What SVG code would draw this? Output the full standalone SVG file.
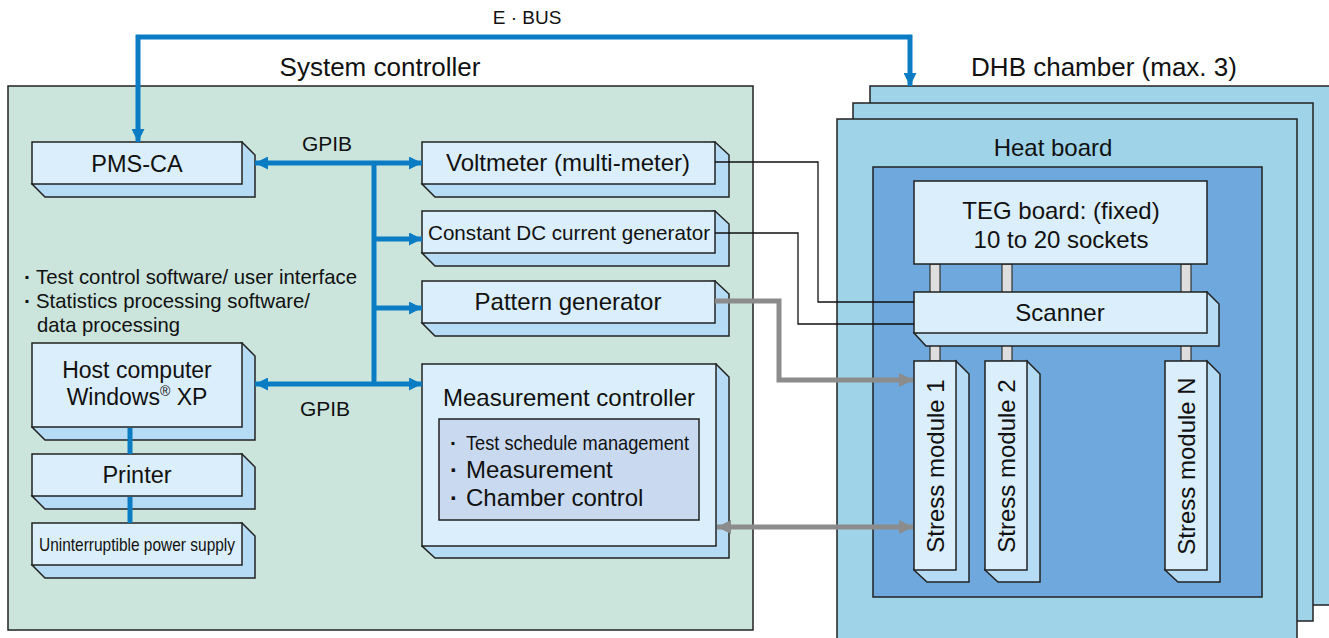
<svg xmlns="http://www.w3.org/2000/svg" width="1329" height="638" viewBox="0 0 1329 638">
<defs>
<style>
text{font-family:"Liberation Sans",Arial,sans-serif;fill:#111}
.front{fill:#dbeefb;stroke:#222;stroke-width:1.5}
.shadow{fill:#b5dcf4;stroke:#222;stroke-width:1.5}
.bus{stroke:#0a7cc4;stroke-width:5;fill:none}
.gray{stroke:#8c8c8c;stroke-width:5;fill:none}
.thin{stroke:#111;stroke-width:1.3;fill:none}
.pillar{fill:#dedede;stroke:#333;stroke-width:1.2}
</style>
<marker id="ab" viewBox="0 0 10 10" refX="10" refY="5" markerWidth="3.4" markerHeight="2.6" orient="auto-start-reverse" markerUnits="strokeWidth"><path d="M0,0L10,5L0,10Z" fill="#0a7cc4"/></marker>
<marker id="ag" viewBox="0 0 10 10" refX="10" refY="5" markerWidth="4.4" markerHeight="2.8" orient="auto-start-reverse" markerUnits="strokeWidth"><path d="M0,0L10,5L0,10Z" fill="#8c8c8c"/></marker>
</defs>
<rect width="1329" height="638" fill="#fff"/>

<!-- titles -->
<text x="527" y="24" font-size="19" text-anchor="middle">E · BUS</text>
<text x="380" y="76" font-size="26" text-anchor="middle">System controller</text>
<text x="1104" y="76" font-size="26" text-anchor="middle">DHB chamber (max. 3)</text>

<!-- system controller panel -->
<g id="system-controller">
<rect x="8" y="86" width="745" height="544" fill="#cbe5dc" stroke="#222" stroke-width="1.5"/>
<text x="24" y="284" font-size="21" font-weight="bold">·</text>
<text x="36" y="284" font-size="21" textLength="321" lengthAdjust="spacingAndGlyphs">Test control software/ user interface</text>
<text x="24" y="308" font-size="21" font-weight="bold">·</text>
<text x="36" y="308" font-size="21" textLength="274" lengthAdjust="spacingAndGlyphs">Statistics processing software/</text>
<text x="37" y="332" font-size="21" textLength="143" lengthAdjust="spacingAndGlyphs">data processing</text>
</g>

<!-- chamber layers -->
<g id="dhb-chamber">
<rect x="870" y="86" width="470" height="519" fill="#9fd4e8" stroke="#222" stroke-width="1.5"/>
<rect x="853" y="103" width="460" height="518" fill="#9fd4e8" stroke="#222" stroke-width="1.5"/>
<rect x="837" y="119" width="460" height="530" fill="#9fd4e8" stroke="#222" stroke-width="1.5"/>
<text x="1053" y="156" font-size="24" text-anchor="middle">Heat board</text>
<rect x="873" y="167" width="389" height="430" fill="#6fa8dc" stroke="#222" stroke-width="1.5"/>
<rect class="pillar" x="930" y="264" width="10" height="97"/>
<rect class="pillar" x="1002" y="264" width="10" height="97"/>
<rect class="pillar" x="1181" y="264" width="10" height="97"/>
</g>

<!-- nodes -->
<g id="pms-ca">
<polygon class="shadow" points="242,142 255,155 255,197 45,197 32,184"/>
<rect class="front" x="32" y="142" width="210" height="42"/>
<text x="137" y="172" font-size="23.5" text-anchor="middle">PMS-CA</text>
</g>
<g id="host-computer">
<polygon class="shadow" points="242,343 255,356 255,440 45,440 32,427"/>
<rect class="front" x="32" y="343" width="210" height="84"/>
<text x="137" y="378" font-size="23" text-anchor="middle">Host computer</text>
<text x="137" y="405" font-size="23" text-anchor="middle">Windows<tspan font-size="14" dy="-9">®</tspan><tspan dy="9"> XP</tspan></text>
</g>
<g id="printer">
<polygon class="shadow" points="242,454 255,467 255,509 45,509 32,496"/>
<rect class="front" x="32" y="454" width="210" height="42"/>
<text x="137" y="483" font-size="23.5" text-anchor="middle">Printer</text>
</g>
<g id="ups">
<polygon class="shadow" points="242,523 255,536 255,578 45,578 32,565"/>
<rect class="front" x="32" y="523" width="210" height="42"/>
<text x="137" y="551" font-size="19" text-anchor="middle" textLength="196" lengthAdjust="spacingAndGlyphs">Uninterruptible power supply</text>
</g>
<g id="voltmeter">
<polygon class="shadow" points="715,142 729,155 729,197 435,197 422,184"/>
<rect class="front" x="422" y="142" width="293" height="42"/>
<text x="568" y="171" font-size="24" text-anchor="middle">Voltmeter (multi-meter)</text>
</g>
<g id="constant-dc">
<polygon class="shadow" points="715,211 729,224 729,266 435,266 422,253"/>
<rect class="front" x="422" y="211" width="293" height="42"/>
<text x="569" y="240" font-size="21" text-anchor="middle" textLength="282" lengthAdjust="spacingAndGlyphs">Constant DC current generator</text>
</g>
<g id="pattern-generator">
<polygon class="shadow" points="715,281 729,294 729,336 435,336 422,323"/>
<rect class="front" x="422" y="281" width="293" height="42"/>
<text x="568" y="310" font-size="24" text-anchor="middle">Pattern generator</text>
</g>
<g id="measurement-controller">
<polygon class="shadow" points="716,364 729,377 729,558 435,558 422,546"/>
<rect class="front" x="422" y="364" width="294" height="182"/>
<text x="569" y="406" font-size="24" text-anchor="middle">Measurement controller</text>
<rect x="439" y="419" width="260" height="101" fill="#c9daf0" stroke="#222" stroke-width="1.5"/>
<text x="450" y="450" font-size="21" font-weight="bold">·</text>
<text x="466" y="450" font-size="21" textLength="223" lengthAdjust="spacingAndGlyphs">Test schedule management</text>
<text x="450" y="478" font-size="24" font-weight="bold">·</text>
<text x="466" y="478" font-size="24">Measurement</text>
<text x="450" y="506" font-size="24" font-weight="bold">·</text>
<text x="466" y="506" font-size="24">Chamber control</text>
</g>
<g id="teg-board">
<rect class="front" x="914" y="181" width="293" height="83"/>
<text x="1061" y="219" font-size="24" text-anchor="middle">TEG board: (fixed)</text>
<text x="1061" y="248" font-size="24" text-anchor="middle">10 to 20 sockets</text>
</g>
<g id="scanner">
<polygon class="shadow" points="1207,292 1219,304 1219,346 926,346 914,333"/>
<rect class="front" x="914" y="292" width="293" height="41"/>
<text x="1060" y="321" font-size="24" text-anchor="middle">Scanner</text>
</g>
<g id="stress-module-1">
<polygon class="shadow" points="956,361 969,374 969,582 927,582 914,570"/>
<rect class="front" x="914" y="361" width="42" height="209"/>
<text transform="translate(944,466) rotate(-90)" font-size="24" text-anchor="middle">Stress module 1</text>
</g>
<g id="stress-module-2">
<polygon class="shadow" points="1027,361 1040,374 1040,582 998,582 985,570"/>
<rect class="front" x="985" y="361" width="42" height="209"/>
<text transform="translate(1015,466) rotate(-90)" font-size="24" text-anchor="middle">Stress module 2</text>
</g>
<g id="stress-module-n">
<polygon class="shadow" points="1207,361 1220,374 1220,582 1178,582 1165,570"/>
<rect class="front" x="1165" y="361" width="42" height="209"/>
<text transform="translate(1195,466) rotate(-90)" font-size="24" text-anchor="middle">Stress module N</text>
</g>

<!-- connectors -->
<g id="connectors">
<polyline class="bus" points="910,86 910,37 138,37 138,142" marker-start="url(#ab)" marker-end="url(#ab)"/>
<line class="bus" x1="374" y1="163" x2="374" y2="386"/>
<line class="bus" x1="255" y1="163" x2="422" y2="163" marker-start="url(#ab)" marker-end="url(#ab)"/>
<line class="bus" x1="374" y1="239" x2="422" y2="239" marker-end="url(#ab)"/>
<line class="bus" x1="374" y1="308" x2="422" y2="308" marker-end="url(#ab)"/>
<line class="bus" x1="255" y1="384" x2="422" y2="384" marker-start="url(#ab)" marker-end="url(#ab)"/>
<line class="bus" x1="130" y1="428" x2="130" y2="454"/>
<line class="bus" x1="130" y1="497" x2="130" y2="523"/>
<polyline class="thin" points="715,162 818,162 818,302 914,302"/>
<polyline class="thin" points="715,233 798,233 798,324 914,324"/>
<polyline class="gray" points="715,301 779,301 779,380 913,380" marker-end="url(#ag)"/>
<line class="gray" x1="717" y1="527" x2="913" y2="527" marker-start="url(#ag)" marker-end="url(#ag)"/>
<text x="327" y="151" font-size="21" text-anchor="middle">GPIB</text>
<text x="325" y="416" font-size="21" text-anchor="middle">GPIB</text>
</g>
</svg>
